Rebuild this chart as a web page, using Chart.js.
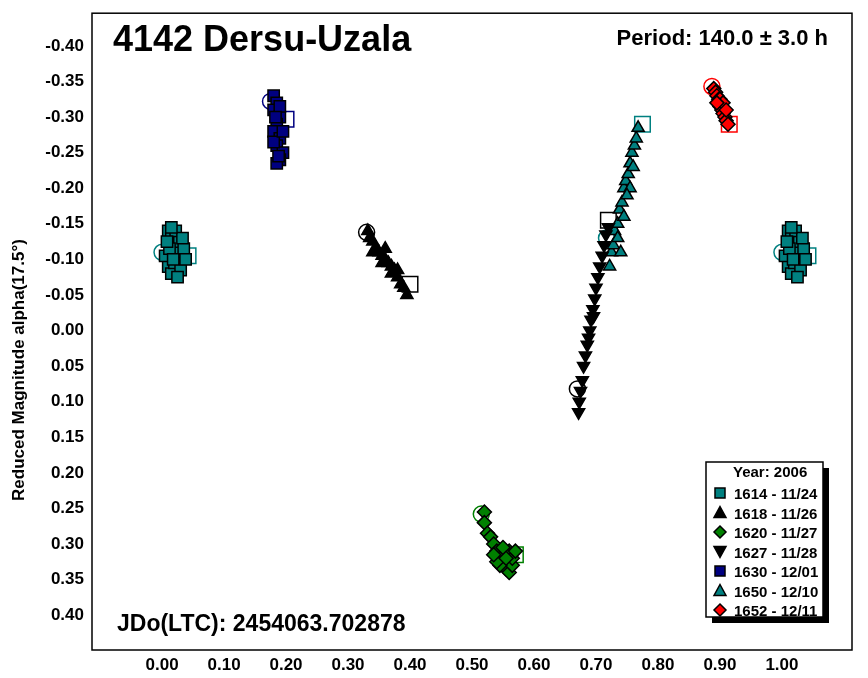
<!DOCTYPE html>
<html><head><meta charset="utf-8">
<script src="https://cdn.jsdelivr.net/npm/chart.js@4"></script>
<style>html,body{margin:0;padding:0;background:#fff}#wrap{width:868px;height:678px}</style>
</head><body><div id="wrap"><canvas id="c" width="868" height="678"></canvas></div>
<script>
const titleText = "4142 Dersu-Uzala";
const periodText = "Period: 140.0 \u00b1 3.0 h";
const jdText = "JDo(LTC): 2454063.702878";
const yTitle = "Reduced Magnitude alpha(17.5\u00b0)";
const legendTitle = "Year: 2006";
const xTicks = [0,0.1,0.2,0.3,0.4,0.5,0.6,0.7,0.8,0.9,1.0];
const yTicks = [-0.40,-0.35,-0.30,-0.25,-0.20,-0.15,-0.10,-0.05,0,0.05,0.10,0.15,0.20,0.25,0.30,0.35,0.40];
const seriesNames = ["1614 - 11/24","1618 - 11/26","1620 - 11/27","1627 - 11/28","1630 - 12/01","1650 - 12/10","1652 - 12/11"];
const s1614 = [[0.01,-0.14],[0.015,-0.13],[0.02,-0.12],[0.025,-0.11],[0.03,-0.10],[0.01,-0.09],[0.015,-0.08],[0.02,-0.095],[0.028,-0.125],[0.035,-0.115],[0.005,-0.105],[0.012,-0.115],[0.022,-0.14],[0.03,-0.085],[0.038,-0.1],[0.018,-0.1],[0.008,-0.125],[0.025,-0.075],[0.033,-0.13],[0.015,-0.145],
  [1.01,-0.14],[1.015,-0.13],[1.02,-0.12],[1.025,-0.11],[1.03,-0.10],[1.01,-0.09],[1.015,-0.08],[1.02,-0.095],[1.028,-0.125],[1.035,-0.115],[1.005,-0.105],[1.012,-0.115],[1.022,-0.14],[1.03,-0.085],[1.038,-0.1],[1.018,-0.1],[1.008,-0.125],[1.025,-0.075],[1.033,-0.13],[1.015,-0.145]];
const s1618 = [[0.332,-0.14],[0.335,-0.13],[0.34,-0.125],[0.345,-0.115],[0.35,-0.11],[0.355,-0.105],[0.36,-0.10],[0.365,-0.095],[0.37,-0.09],[0.375,-0.085],[0.38,-0.075],[0.385,-0.065],[0.39,-0.06],[0.395,-0.05],[0.34,-0.11],[0.355,-0.095],[0.37,-0.08],[0.38,-0.085],[0.36,-0.115]];
const s1620 = [[0.52,0.255],[0.52,0.27],[0.525,0.285],[0.53,0.29],[0.535,0.30],[0.54,0.31],[0.545,0.32],[0.55,0.33],[0.555,0.335],[0.56,0.34],[0.565,0.33],[0.56,0.31],[0.55,0.305],[0.545,0.33],[0.54,0.325],[0.535,0.315],[0.565,0.32],[0.57,0.31],[0.555,0.32]];
const s1627 = [[0.672,0.115],[0.673,0.1],[0.675,0.085],[0.678,0.07],[0.68,0.05],[0.683,0.035],[0.686,0.02],[0.69,0.0],[0.692,-0.015],[0.695,-0.03],[0.698,-0.045],[0.70,-0.06],[0.703,-0.075],[0.706,-0.09],[0.71,-0.105],[0.713,-0.12],[0.716,-0.135],[0.72,-0.145],[0.688,0.01],[0.696,-0.02]];
const s1630 = [[0.18,-0.33],[0.185,-0.32],[0.18,-0.31],[0.19,-0.30],[0.185,-0.29],[0.18,-0.28],[0.19,-0.27],[0.185,-0.26],[0.195,-0.25],[0.19,-0.24],[0.185,-0.235],[0.18,-0.265],[0.19,-0.315],[0.195,-0.28],[0.183,-0.30],[0.188,-0.245]];
const s1650 = [[0.722,-0.09],[0.725,-0.11],[0.728,-0.12],[0.73,-0.14],[0.735,-0.15],[0.738,-0.17],[0.742,-0.18],[0.745,-0.20],[0.748,-0.21],[0.752,-0.22],[0.755,-0.235],[0.758,-0.25],[0.762,-0.26],[0.765,-0.27],[0.768,-0.285],[0.735,-0.13],[0.745,-0.16],[0.755,-0.20],[0.76,-0.23],[0.75,-0.19],[0.74,-0.11]];
const s1652 = [[0.89,-0.34],[0.893,-0.335],[0.895,-0.33],[0.898,-0.325],[0.90,-0.315],[0.903,-0.31],[0.905,-0.305],[0.908,-0.30],[0.91,-0.295],[0.913,-0.29],[0.9,-0.325],[0.905,-0.32],[0.895,-0.32],[0.91,-0.31]];
const firstPts = [[0.0,-0.11],[0.33,-0.138],[0.515,0.258],[0.67,0.082],[0.175,-0.322],[0.717,-0.13],[0.887,-0.343]];
const lastPts = [[0.042,-0.105],[0.40,-0.065],[0.57,0.315],[0.72,-0.155],[0.20,-0.297],[0.775,-0.29],[0.915,-0.29]];

const colors = ["#008080","#000000","#008000","#000000","#000080","#008080","#ff0000"];
const styles = ["rect","triangle","rectRot","triangle","rect","triangle","rectRot"];
const rots = [0,0,0,180,0,0,0];
const sizes = [8,7,7,7,8,7,7];
const allData = [s1614,s1618,s1620,s1627,s1630,s1650,s1652];
const toXY = a => a.map(p=>({x:p[0],y:p[1]}));

const datasets = [];
allData.forEach((d,i)=>{
  datasets.push({label:seriesNames[i],data:toXY(d),pointStyle:styles[i],rotation:rots[i],pointRadius:sizes[i],
    backgroundColor:colors[i],borderColor:"#000",borderWidth:1.5});
});
const extra1614 = [[1.0,-0.11],[1.042,-0.105]];
firstPts.forEach((p,i)=>{
  datasets.push({label:"_c",data:toXY(i===0?[p,extra1614[0]]:[p]),pointStyle:"circle",pointRadius:8,backgroundColor:"rgba(0,0,0,0)",borderColor:colors[i],borderWidth:1.5});
  datasets.push({label:"_s",data:toXY(i===0?[lastPts[i],extra1614[1]]:[lastPts[i]]),pointStyle:"rect",pointRadius:11,backgroundColor:"rgba(0,0,0,0)",borderColor:colors[i],borderWidth:1.5});
});

const font = "Liberation Sans, Arial, sans-serif";
const deco = {
  id:"deco",
  afterDraw(c){
    const g=c.ctx, a=c.chartArea;
    g.save();
    g.strokeStyle="#000";g.lineWidth=1.5;g.strokeRect(a.left,a.top,a.right-a.left,a.bottom-a.top);
    g.fillStyle="#000";g.textBaseline="alphabetic";
    g.font="bold 36px "+font;g.textAlign="left";g.fillText(titleText,113,51);
    g.font="bold 22px "+font;g.textAlign="right";g.fillText(periodText,828,45);
    g.font="bold 23px "+font;g.textAlign="left";g.fillText(jdText,117,631);
    g.save();g.translate(24,370);g.rotate(-Math.PI/2);g.font="bold 17px "+font;g.textAlign="center";g.fillText(yTitle,0,0);g.restore();
    // legend
    const lx=706,ly=462,lw=117,lh=155;
    g.fillStyle="#000";g.fillRect(lx+6,ly+6,lw,lh);
    g.fillStyle="#fff";g.fillRect(lx,ly,lw,lh);
    g.strokeStyle="#000";g.lineWidth=1.5;g.strokeRect(lx,ly,lw,lh);
    g.fillStyle="#000";g.font="bold 15px "+font;g.textAlign="left";
    g.fillText(legendTitle,733,477);
    seriesNames.forEach((n,i)=>{
      const yy=ly+31+i*19.5;
      g.fillStyle="#000";g.font="bold 15px "+font;g.fillText(n,734,yy+6);
      g.save();g.translate(720,yy);
      g.fillStyle=colors[i];g.strokeStyle="#000";g.lineWidth=1.5;
      g.beginPath();
      if(styles[i]==="rect"){g.rect(-5,-5,10,10);}
      else if(styles[i]==="rectRot"){g.moveTo(0,-6);g.lineTo(6,0);g.lineTo(0,6);g.lineTo(-6,0);g.closePath();}
      else { const s=rots[i]?-1:1; g.moveTo(0,-6*s);g.lineTo(6,5*s);g.lineTo(-6,5*s);g.closePath();}
      g.fill();g.stroke();g.restore();
    });
    g.restore();
  }
};

new Chart(document.getElementById("c"),{
  type:"scatter",
  data:{datasets},
  plugins:[deco],
  options:{
    responsive:false,animation:false,
    layout:{padding:{top:8,right:16,left:0,bottom:0}},
    plugins:{legend:{display:false},tooltip:{enabled:false}},
    scales:{
      x:{type:"linear",min:-0.113,max:1.113,
        afterBuildTicks:s=>{s.ticks=xTicks.map(v=>({value:v}));},
        afterFit:s=>{s.height=28;},
        grid:{display:false,drawTicks:true,tickLength:5,tickColor:"#000"},
        border:{display:false},
        ticks:{color:"#000",font:{family:font,size:17,weight:"bold"},padding:0,callback:v=>v.toFixed(2)}},
      y:{type:"linear",reverse:true,min:-0.446,max:0.449,
        afterBuildTicks:s=>{s.ticks=yTicks.map(v=>({value:v}));},
        afterFit:s=>{s.width=92;},
        grid:{display:false,drawTicks:true,tickLength:5,tickColor:"#000"},
        border:{display:false},
        ticks:{color:"#000",font:{family:font,size:17,weight:"bold"},padding:3,callback:v=>v.toFixed(2)}}
    }
  }
});
</script></body></html>
